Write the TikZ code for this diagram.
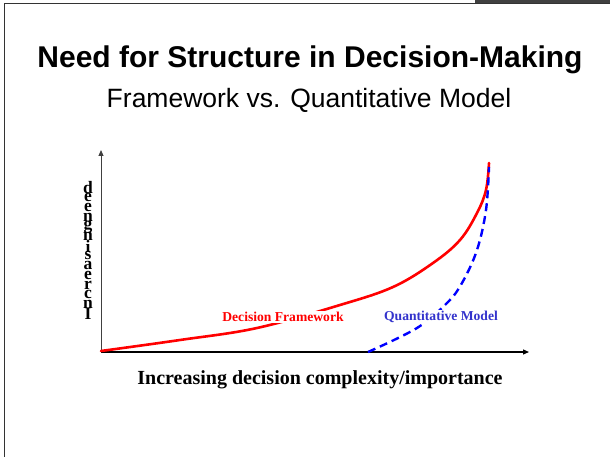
\documentclass[tikz,border=0pt]{standalone}
\usepackage{fontspec}
\setmainfont{Liberation Serif}
\newfontfamily\arialfont{Liberation Sans}
\usetikzlibrary{arrows.meta}
\definecolor{qblue}{RGB}{51,51,204}
\tikzset{
  axis/.style={line width=1.2pt, -{Triangle[length=6pt,width=5pt]}},
  framecurve/.style={red, line width=2.6pt, line cap=round},
  modelcurve/.style={blue, line width=2.4pt, dash pattern=on 8pt off 5pt},
  curvelabel/.style={font=\bfseries\fontsize{13.6}{15}\selectfont, fill=white, inner sep=1pt},
  stackletter/.style={font=\bfseries\fontsize{17.5}{17.5}\selectfont, inner sep=0pt}
}
\begin{document}
\begin{tikzpicture}[x=1pt,y=-1pt]
\useasboundingbox (0,0) rectangle (610,457);
% frame
\draw[line width=1.5pt, black!80] (4.5,457) -- (4.5,3.5) -- (610,3.5);
\fill[black!75] (475,0) rectangle (610,3);
% titles
\node[font=\arialfont\bfseries\fontsize{30}{34}\selectfont] (title) at (310,60) {Need for Structure in Decision-Making};
\node[font=\arialfont\fontsize{26.5}{30}\selectfont] (subtitle) at (309,100) {Framework vs. Quantitative Model};
% axes
\coordinate (O) at (101,352);
\coordinate (ytip) at (101,150);
\coordinate (xtip) at (529,352);
\draw[axis, black!75, line width=1pt] (O) -- (ytip);
\draw[axis] (O) -- (xtip);
% curves
\draw[framecurve] plot[smooth, tension=0.6] coordinates {(101,351) (180,340) (257,328) (340,305) (393,287) (433,263) (460,240) (477,213) (486,190) (489,163)};
\draw[modelcurve] plot[smooth, tension=0.6] coordinates {(368,352) (417,328) (447,303) (462,283) (477,250) (486,210) (489,167)};
% labels
\node[curvelabel, text=red] (dflabel) at (283,317) {Decision Framework};
\node[curvelabel, text=qblue] (qmlabel) at (441,317) {Quantitative Model};
\node[font=\bfseries\fontsize{20}{22}\selectfont] (xlabel) at (320,380) {Increasing decision complexity/importance};
% y-axis stacked label
\foreach \ch [count=\i] in {d,e,e,n,g,n,i,s,a,e,r,c,n,I} {
  \node[stackletter] (yl\i) at (88,{188+(\i-1)*9.7}) {\ch};
}
\end{tikzpicture}
\end{document}
